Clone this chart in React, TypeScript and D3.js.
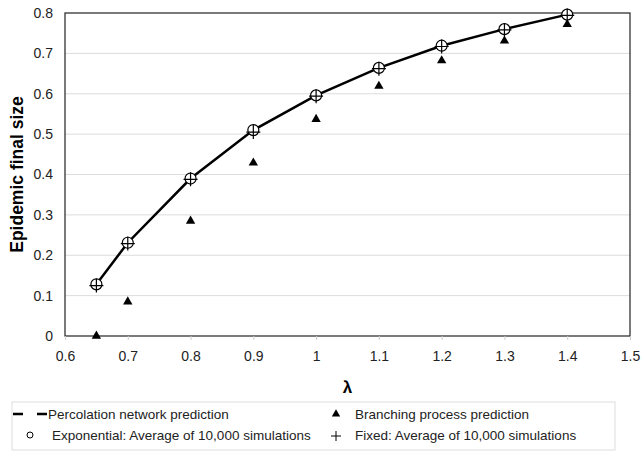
import React, { useEffect, useRef } from 'react';
import * as d3 from 'd3';

const lambdas = [0.65, 0.7, 0.8, 0.9, 1.0, 1.1, 1.2, 1.3, 1.4];
const percolation = [0.128, 0.231, 0.390, 0.510, 0.596, 0.664, 0.719, 0.760, 0.796];
const exponentialSim = [0.128, 0.231, 0.390, 0.510, 0.596, 0.664, 0.719, 0.760, 0.796];
const fixedSim = [0.125, 0.229, 0.388, 0.505, 0.594, 0.662, 0.717, 0.758, 0.794];
const branching = [0.0, 0.085, 0.285, 0.429, 0.537, 0.619, 0.682, 0.731, 0.772];
const xTicks = [0.6, 0.7, 0.8, 0.9, 1, 1.1, 1.2, 1.3, 1.4, 1.5];
const yTicks = [0, 0.1, 0.2, 0.3, 0.4, 0.5, 0.6, 0.7, 0.8];

const App = () => {
  const svgRef = useRef<SVGSVGElement>(null);

  useEffect(() => {
    const svg = d3.select(svgRef.current);
    svg.selectAll('*').remove();

    const margin = { top: 13, left: 65, right: 13, bottom: 123 };
    const W = 643, H = 459;
    const width = W - margin.left - margin.right;
    const height = H - margin.top - margin.bottom;
    const font = 'Liberation Sans, Arial, sans-serif';

    const x = d3.scaleLinear().domain([0.6, 1.5]).range([0, width]);
    const y = d3.scaleLinear().domain([0, 0.8]).range([height, 0]);

    const g = svg.append('g').attr('transform', `translate(${margin.left},${margin.top})`);

    // grid
    g.selectAll('.grid')
      .data(yTicks.slice(1, -1))
      .join('line')
      .attr('x1', 0).attr('x2', width)
      .attr('y1', d => y(d)).attr('y2', d => y(d))
      .attr('stroke', '#dcdcdc').attr('stroke-width', 1);

    // frame
    g.append('rect')
      .attr('width', width).attr('height', height)
      .attr('fill', 'none').attr('stroke', '#333').attr('stroke-width', 1.3);

    const xAxis = g.append('g')
      .attr('transform', `translate(0,${height})`)
      .call(d3.axisBottom(x).tickValues(xTicks).tickSize(4).tickPadding(11).tickFormat(d => String(+d)));
    xAxis.select('.domain').remove();
    xAxis.selectAll('line').attr('stroke', '#ccc');
    xAxis.selectAll('text').attr('font-family', font).attr('font-size', 14).attr('fill', '#222');

    const yAxis = g.append('g')
      .call(d3.axisLeft(y).tickValues(yTicks).tickSize(0).tickPadding(12).tickFormat(d => String(+d)));
    yAxis.select('.domain').remove();
    yAxis.selectAll('text').attr('font-family', font).attr('font-size', 14).attr('fill', '#222');

    // percolation line
    const pts = lambdas.map((l, i) => [x(l), y(percolation[i])] as [number, number]);
    g.append('path')
      .attr('d', d3.line()(pts))
      .attr('fill', 'none').attr('stroke', '#000').attr('stroke-width', 2.5);

    // branching triangles
    const tri = d3.symbol().type(d3.symbolTriangle).size(38);
    g.selectAll('.tri')
      .data(lambdas)
      .join('path')
      .attr('d', tri)
      .attr('transform', (d, i) => `translate(${x(d)},${y(branching[i])})`)
      .attr('fill', '#000');

    // exponential circles
    g.selectAll('.circ')
      .data(lambdas)
      .join('circle')
      .attr('cx', d => x(d)).attr('cy', (d, i) => y(exponentialSim[i]))
      .attr('r', 5.5)
      .attr('fill', '#fff').attr('stroke', '#000').attr('stroke-width', 1.2);

    // fixed plus
    const plus = (cx: number, cy: number, s: number) => `M${cx - s},${cy}H${cx + s}M${cx},${cy - s}V${cy + s}`;
    g.selectAll('.plus')
      .data(lambdas)
      .join('path')
      .attr('d', (d, i) => plus(x(d), y(fixedSim[i]), 7))
      .attr('stroke', '#000').attr('stroke-width', 1.2).attr('fill', 'none');

    // axis titles
    svg.append('text')
      .attr('x', margin.left + width / 2).attr('y', 393)
      .attr('text-anchor', 'middle')
      .attr('font-family', font).attr('font-weight', 'bold').attr('font-size', 17)
      .text('λ');

    svg.append('text')
      .attr('transform', `translate(23,${margin.top + height / 2}) rotate(-90)`)
      .attr('text-anchor', 'middle')
      .attr('font-family', font).attr('font-weight', 'bold').attr('font-size', 17.5)
      .text('Epidemic final size');

    // legend
    const lg = svg.append('g');
    lg.append('rect')
      .attr('x', 12).attr('y', 402).attr('width', 603).attr('height', 48)
      .attr('fill', 'none').attr('stroke', '#ddd');

    const row1 = 414, row2 = 435;
    lg.append('line')
      .attr('x1', 13).attr('x2', 48).attr('y1', row1).attr('y2', row1)
      .attr('stroke', '#000').attr('stroke-width', 2.5).attr('stroke-dasharray', '10,14');
    lg.append('path')
      .attr('d', d3.symbol().type(d3.symbolTriangle).size(30)())
      .attr('transform', `translate(336,${row1})`).attr('fill', '#000');
    lg.append('circle')
      .attr('cx', 30).attr('cy', row2).attr('r', 3)
      .attr('fill', 'none').attr('stroke', '#000').attr('stroke-width', 1);
    lg.append('path')
      .attr('d', plus(336, row2 + 1, 5))
      .attr('stroke', '#000').attr('stroke-width', 1);

    const items = [
      { x: 48, y: row1, t: 'Percolation network prediction' },
      { x: 355, y: row1, t: 'Branching process prediction' },
      { x: 52, y: row2, t: 'Exponential: Average of 10,000 simulations' },
      { x: 355, y: row2, t: 'Fixed: Average of 10,000 simulations' },
    ];
    lg.selectAll('.lt')
      .data(items)
      .join('text')
      .attr('x', d => d.x).attr('y', d => d.y)
      .attr('dy', '0.35em')
      .attr('font-family', font).attr('font-size', 13.5).attr('fill', '#222')
      .text(d => d.t);
  }, []);

  return <svg ref={svgRef} width={643} height={459} style={{ display: 'block', position: 'absolute', left: 0, top: 0, background: '#fff' }} />;
};

export default App;
